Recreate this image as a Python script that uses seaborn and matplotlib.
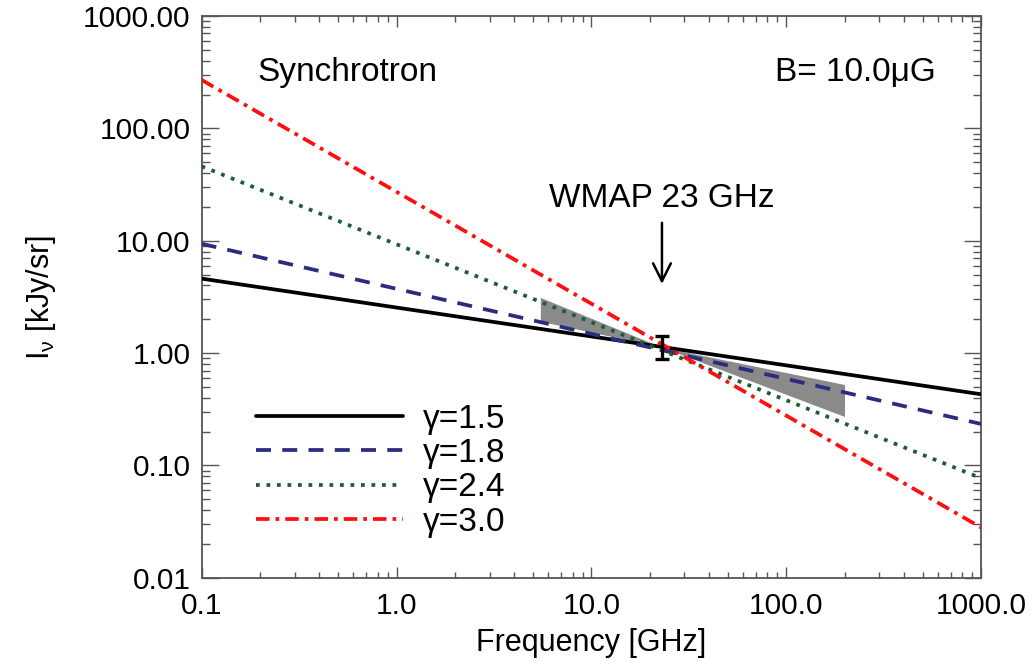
import numpy as np
import pandas as pd
import matplotlib
matplotlib.use("Agg")
import matplotlib.pyplot as plt
import matplotlib.ticker as mticker
import seaborn as sns

# ---------------- data ----------------
freq_ends = [0.1, 1000.0]                 # GHz, line end points
I_g15 = [4.6, 0.43]                       # kJy/sr
I_g18 = [9.4, 0.234]
I_g24 = [46.0, 0.077]
I_g30 = [270.0, 0.028]
series_labels = ["γ=1.5", "γ=1.8", "γ=2.4", "γ=3.0"]
series_colors = ["#000000", "#2b2b7f", "#1d5c34", "#ff1010"]

band_freq = [5.5, 23.0, 200.0, 200.0, 23.0, 5.5]       # shaded spectral-index range
band_I = [3.1, 1.12, 0.52, 0.27, 1.12, 1.9]

wmap_freq = [23.0]
wmap_I = [1.12]
wmap_err_lo = [0.23]
wmap_err_hi = [0.30]

xticks = [0.1, 1.0, 10.0, 100.0, 1000.0]
xtick_labels = ["0.1", "1.0", "10.0", "100.0", "1000.0"]
yticks = [0.01, 0.1, 1.0, 10.0, 100.0, 1000.0]
ytick_labels = ["0.01", "0.10", "1.00", "10.00", "100.00", "1000.00"]

# ---------------- style ----------------
sns.set_style("ticks")
plt.rcParams["font.family"] = ["Liberation Sans", "DejaVu Sans"]
plt.rcParams["mathtext.fontset"] = "custom"
plt.rcParams["mathtext.rm"] = "Liberation Sans"
plt.rcParams["mathtext.it"] = "Liberation Sans"
plt.rcParams["text.color"] = "black"
plt.rcParams["axes.labelcolor"] = "black"
plt.rcParams["xtick.labelcolor"] = "black"
plt.rcParams["ytick.labelcolor"] = "black"

fig = plt.figure(figsize=(10.34, 6.68), dpi=100)
ax = fig.add_axes([0.195, 0.135, 0.754, 0.841])

# shaded band
ax.fill(band_freq, band_I, color="#8a8a8a", lw=0, zorder=1)

# lines
df = pd.DataFrame({
    "freq": freq_ends * 4,
    "I": I_g15 + I_g18 + I_g24 + I_g30,
    "gamma": sum([[lab] * 2 for lab in series_labels], []),
})
styles = ["-", (0, (4, 3)), (0, (1, 1.8)), (0, (3.6, 1.6, 1.0, 1.6))]
for lab, col, ls in zip(series_labels, series_colors, styles):
    sub = df[df["gamma"] == lab]
    sns.lineplot(data=sub, x="freq", y="I", color=col, linewidth=2.7,
                 linestyle=ls, label=lab, ax=ax, zorder=3)

# WMAP point
ax.errorbar(wmap_freq, wmap_I, yerr=[wmap_err_lo, wmap_err_hi], fmt="none",
            ecolor="black", elinewidth=2.4, capsize=5, capthick=2.4, zorder=5)
ax.annotate("", xy=(23.0, 3.9), xytext=(23.0, 15.3),
            arrowprops=dict(arrowstyle="->", lw=1.8, color="black",
                            mutation_scale=32), zorder=5)
ax.text(23.0, 24.0, "WMAP 23 GHz", ha="center", va="center", fontsize=24)

ax.text(0.071, 0.90, "Synchrotron", transform=ax.transAxes, ha="left",
        va="center", fontsize=24)
ax.text(0.941, 0.90, "B= 10.0μG", transform=ax.transAxes, ha="right",
        va="center", fontsize=24)

# axes
ax.set_xscale("log")
ax.set_yscale("log")
ax.set_xlim(0.1, 1000.0)
ax.set_ylim(0.01, 1000.0)
ax.xaxis.set_major_locator(mticker.FixedLocator(xticks))
ax.xaxis.set_major_formatter(mticker.FixedFormatter(xtick_labels))
ax.yaxis.set_major_locator(mticker.FixedLocator(yticks))
ax.yaxis.set_major_formatter(mticker.FixedFormatter(ytick_labels))
ax.xaxis.set_minor_locator(mticker.LogLocator(base=10, subs=np.arange(2, 10)))
ax.yaxis.set_minor_locator(mticker.LogLocator(base=10, subs=np.arange(2, 10)))
ax.xaxis.set_minor_formatter(mticker.NullFormatter())
ax.yaxis.set_minor_formatter(mticker.NullFormatter())
ax.tick_params(which="both", direction="in", top=True, right=True,
               color="#555555", width=1.0)
ax.tick_params(axis="x", which="major", length=8, labelsize=21.5, pad=10)
ax.tick_params(axis="x", which="minor", length=4)
ax.tick_params(axis="y", which="major", length=12, labelsize=21.5, pad=8)
ax.tick_params(axis="y", which="minor", length=6)
for sp in ax.spines.values():
    sp.set_color("#555555")
    sp.set_linewidth(1.3)
    sp.set_visible(True)

ax.set_xlabel("Frequency [GHz]", fontsize=22, labelpad=6)
ax.set_ylabel(r"I$_{\nu}$ [kJy/sr]", fontsize=22, labelpad=18)

leg = ax.legend(loc="lower left", bbox_to_anchor=(0.049, 0.042),
                frameon=False, fontsize=24, handlelength=4.4,
                handletextpad=0.6, labelspacing=0.1, borderpad=0)

fig.savefig("out.png", dpi=100)
